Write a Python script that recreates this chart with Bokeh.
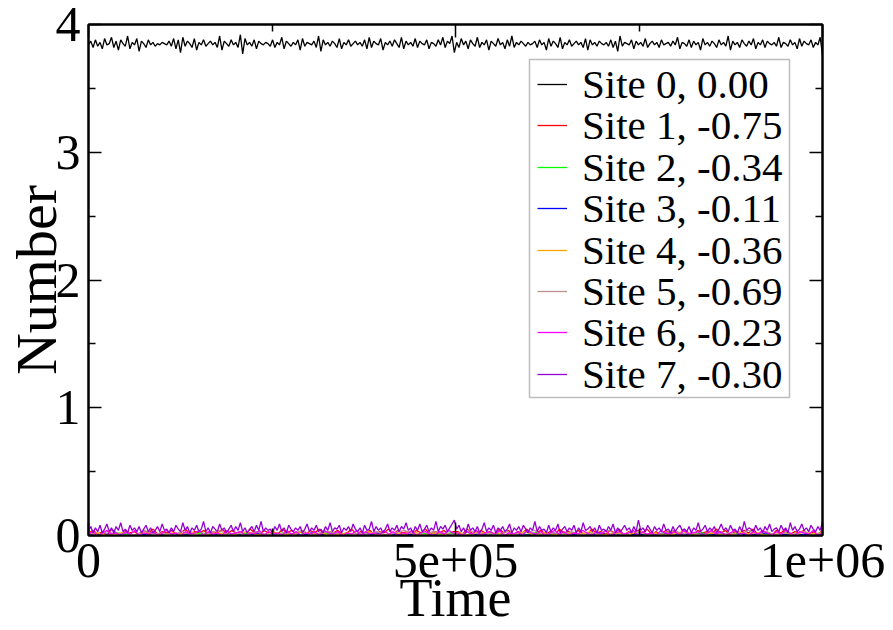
import numpy as np
from bokeh.plotting import figure
from bokeh.models import Range1d, LinearAxis, FixedTicker, Legend, LegendItem, BoxAnnotation
from bokeh.embed import file_html
from bokeh.resources import INLINE

# Axis ticks and labels
x_ticks = [0, 500000, 1000000]
x_minor = [250000, 750000]
x_tick_labels = ["0", "5e+05", "1e+06"]
y_ticks = [0, 1, 2, 3, 4]
y_minor = [0.5, 1.5, 2.5, 3.5]
y_tick_labels = ["0", "1", "2", "3", "4"]

site_labels = ["Site 0, 0.00", "Site 1, -0.75", "Site 2, -0.34", "Site 3, -0.11",
               "Site 4, -0.36", "Site 5, -0.69", "Site 6, -0.23", "Site 7, -0.30"]
site_colors = ["#000000", "#ff0000", "#00ff00", "#0000ff",
               "#ffa500", "#bc8f8f", "#ff00ff", "#9400d3"]

# Occupation number per site over time
site0 = [3.84, 3.87, 3.82, 3.88, 3.83, 3.86, 3.81, 3.89, 3.84, 3.85,
         3.90, 3.82, 3.87, 3.80, 3.88, 3.85, 3.83, 3.91, 3.81, 3.86,
         3.84, 3.89, 3.79, 3.87, 3.85, 3.82, 3.88, 3.84, 3.86, 3.83,
         3.85, 3.84, 3.86, 3.85, 3.84, 3.87, 3.83, 3.89, 3.81, 3.88,
         3.78, 3.90, 3.83, 3.87, 3.85, 3.82, 3.89, 3.80, 3.86, 3.84,
         3.88, 3.83, 3.85, 3.87, 3.84, 3.86, 3.82, 3.91, 3.80, 3.87,
         3.85, 3.83, 3.88, 3.84, 3.86, 3.82, 3.92, 3.77, 3.89, 3.84,
         3.86, 3.83, 3.88, 3.81, 3.87, 3.85, 3.84, 3.86, 3.85, 3.83,
         3.88, 3.82, 3.86, 3.84, 3.90, 3.81, 3.87, 3.85, 3.83, 3.86,
         3.84, 3.88, 3.80, 3.89, 3.83, 3.86, 3.85, 3.84, 3.87, 3.82,
         3.91, 3.79, 3.88, 3.84, 3.86, 3.83, 3.87, 3.85, 3.82, 3.89,
         3.81, 3.86, 3.84, 3.88, 3.83, 3.85, 3.87, 3.84, 3.86, 3.83,
         3.88, 3.81, 3.90, 3.82, 3.87, 3.85, 3.84, 3.89, 3.80, 3.86,
         3.84, 3.87, 3.83, 3.88, 3.85, 3.82, 3.90, 3.81, 3.87, 3.84,
         3.86, 3.83, 3.89, 3.82, 3.87, 3.85, 3.84, 3.88, 3.81, 3.86,
         3.85, 3.83, 3.88, 3.84, 3.90, 3.82, 3.87, 3.85, 3.91, 3.78,
         3.86, 3.82, 3.89, 3.84, 3.87, 3.81, 3.88, 3.85, 3.83, 3.90,
         3.82, 3.86, 3.84, 3.88, 3.80, 3.87, 3.85, 3.83, 3.89, 3.84,
         3.86, 3.81, 3.88, 3.83, 3.91, 3.82, 3.86, 3.84, 3.87, 3.85,
         3.83, 3.86, 3.84, 3.85, 3.87, 3.82, 3.88, 3.84, 3.86, 3.80,
         3.89, 3.83, 3.87, 3.85, 3.82, 3.90, 3.81, 3.86, 3.84, 3.88,
         3.83, 3.85, 3.87, 3.84, 3.86, 3.82, 3.89, 3.80, 3.88, 3.84,
         3.86, 3.83, 3.87, 3.85, 3.84, 3.86, 3.83, 3.88, 3.82, 3.87,
         3.79, 3.91, 3.83, 3.86, 3.85, 3.84, 3.88, 3.81, 3.87, 3.84,
         3.86, 3.83, 3.89, 3.82, 3.85, 3.87, 3.84, 3.86, 3.82, 3.88,
         3.84, 3.85, 3.86, 3.83, 3.87, 3.84, 3.90, 3.81, 3.86, 3.85,
         3.83, 3.88, 3.82, 3.87, 3.84, 3.86, 3.80, 3.89, 3.84, 3.86,
         3.83, 3.87, 3.85, 3.82, 3.88, 3.84, 3.86, 3.83, 3.91, 3.80,
         3.87, 3.84, 3.86, 3.82, 3.88, 3.85, 3.83, 3.87, 3.84, 3.89,
         3.81, 3.86, 3.84, 3.88, 3.82, 3.87, 3.85, 3.84, 3.86, 3.83,
         3.90, 3.82, 3.86, 3.85, 3.83, 3.88, 3.84, 3.86, 3.81, 3.89,
         3.83, 3.87, 3.85, 3.84, 3.88, 3.82, 3.86, 3.84, 3.90, 3.76]

site1 = [0.02, 0.04, 0.01, 0.03, 0.00, 0.05, 0.02, 0.01, 0.04, 0.02,
         0.03, 0.00, 0.04, 0.02, 0.05, 0.01, 0.03, 0.02, 0.04, 0.01,
         0.02, 0.05, 0.01, 0.03, 0.02, 0.04, 0.00, 0.03, 0.02, 0.05,
         0.01, 0.04, 0.02, 0.03, 0.01, 0.05, 0.02, 0.00, 0.04, 0.02,
         0.03, 0.01, 0.05, 0.02, 0.04, 0.01, 0.03, 0.00, 0.04, 0.02,
         0.05, 0.01, 0.03, 0.02, 0.04, 0.01, 0.02, 0.05, 0.01, 0.03,
         0.02, 0.04, 0.00, 0.03, 0.02, 0.05, 0.01, 0.04, 0.02, 0.03,
         0.01, 0.04, 0.02, 0.05, 0.01, 0.03, 0.02, 0.04, 0.01, 0.03,
         0.03, 0.01, 0.05, 0.02, 0.00, 0.04, 0.02, 0.03, 0.01, 0.05,
         0.02, 0.04, 0.00, 0.03, 0.02, 0.05, 0.01, 0.02, 0.04, 0.01,
         0.03, 0.00, 0.05, 0.02, 0.03, 0.01, 0.04, 0.02, 0.00, 0.05,
         0.02, 0.03, 0.01, 0.04, 0.02, 0.05, 0.00, 0.03, 0.01, 0.04,
         0.02, 0.05, 0.01, 0.03, 0.00, 0.04, 0.02, 0.03, 0.01, 0.05,
         0.02, 0.00, 0.04, 0.02, 0.03, 0.01, 0.05, 0.02, 0.04, 0.00,
         0.03, 0.01, 0.04, 0.02, 0.05, 0.01, 0.03, 0.02, 0.00, 0.04,
         0.02, 0.05, 0.01, 0.03, 0.02, 0.04, 0.00, 0.03, 0.01, 0.04]

site2 = [0.00, 0.01, 0.00, 0.02, 0.01, 0.00, 0.01, 0.02, 0.00, 0.01,
         0.01, 0.00, 0.02, 0.01, 0.00, 0.01, 0.00, 0.02, 0.01, 0.00,
         0.01, 0.02, 0.00, 0.01, 0.00, 0.01, 0.02, 0.00, 0.01, 0.00,
         0.02, 0.01, 0.00, 0.01, 0.01, 0.00, 0.02, 0.00, 0.01, 0.02,
         0.00, 0.01, 0.00, 0.02, 0.01, 0.00, 0.01, 0.00, 0.02, 0.01,
         0.00, 0.01, 0.02, 0.00, 0.01, 0.00, 0.01, 0.02, 0.00, 0.01,
         0.01, 0.00, 0.02, 0.01, 0.00, 0.01, 0.02, 0.00, 0.01, 0.00,
         0.02, 0.00, 0.01, 0.01, 0.00, 0.02, 0.01, 0.00, 0.01, 0.02]

site3 = [0.01, 0.00, 0.01, 0.00, 0.02, 0.00, 0.01, 0.00, 0.01, 0.01,
         0.00, 0.02, 0.00, 0.01, 0.00, 0.01, 0.01, 0.00, 0.02, 0.00,
         0.01, 0.00, 0.01, 0.00, 0.02, 0.01, 0.00, 0.01, 0.00, 0.01,
         0.00, 0.02, 0.00, 0.01, 0.00, 0.01, 0.00, 0.01, 0.02, 0.00,
         0.01, 0.00, 0.01, 0.00, 0.02, 0.00, 0.01, 0.00, 0.01, 0.00,
         0.02, 0.00, 0.01, 0.01, 0.00, 0.02, 0.00, 0.01, 0.00, 0.01,
         0.00, 0.01, 0.02, 0.00, 0.01, 0.00, 0.01, 0.00, 0.02, 0.00,
         0.01, 0.00, 0.01, 0.02, 0.00, 0.01, 0.00, 0.01, 0.00, 0.01]

site4 = [0.01, 0.02, 0.00, 0.01, 0.03, 0.00, 0.02, 0.01, 0.00, 0.02,
         0.01, 0.03, 0.00, 0.01, 0.02, 0.00, 0.01, 0.03, 0.01, 0.00,
         0.02, 0.01, 0.00, 0.03, 0.01, 0.02, 0.00, 0.01, 0.02, 0.00,
         0.03, 0.01, 0.00, 0.02, 0.01, 0.03, 0.00, 0.02, 0.01, 0.00,
         0.02, 0.00, 0.03, 0.01, 0.02, 0.00, 0.01, 0.03, 0.00, 0.02,
         0.01, 0.00, 0.02, 0.01, 0.03, 0.00, 0.01, 0.02, 0.00, 0.03,
         0.01, 0.02, 0.00, 0.01, 0.03, 0.01, 0.00, 0.02, 0.01, 0.00,
         0.03, 0.01, 0.02, 0.00, 0.01, 0.02, 0.00, 0.03, 0.01, 0.02]

site5 = [0.02, 0.00, 0.03, 0.01, 0.02, 0.00, 0.04, 0.01, 0.02, 0.00,
         0.03, 0.01, 0.00, 0.02, 0.04, 0.01, 0.02, 0.00, 0.03, 0.01,
         0.00, 0.02, 0.01, 0.04, 0.00, 0.02, 0.03, 0.01, 0.00, 0.02,
         0.01, 0.03, 0.00, 0.02, 0.04, 0.01, 0.00, 0.03, 0.02, 0.01,
         0.00, 0.04, 0.01, 0.02, 0.00, 0.03, 0.01, 0.02, 0.04, 0.00,
         0.02, 0.01, 0.03, 0.00, 0.02, 0.01, 0.04, 0.00, 0.02, 0.03,
         0.01, 0.00, 0.02, 0.04, 0.01, 0.02, 0.00, 0.03, 0.01, 0.02,
         0.00, 0.04, 0.01, 0.03, 0.00, 0.02, 0.01, 0.03, 0.00, 0.02]

site6 = [0.01, 0.03, 0.00, 0.02, 0.04, 0.01, 0.02, 0.00, 0.03, 0.01,
         0.04, 0.00, 0.02, 0.01, 0.03, 0.00, 0.02, 0.04, 0.01, 0.02,
         0.00, 0.03, 0.01, 0.02, 0.04, 0.00, 0.03, 0.01, 0.02, 0.00,
         0.04, 0.01, 0.02, 0.03, 0.00, 0.02, 0.01, 0.04, 0.00, 0.03,
         0.01, 0.02, 0.00, 0.04, 0.01, 0.03, 0.00, 0.02, 0.01, 0.03,
         0.00, 0.04, 0.02, 0.01, 0.03, 0.00, 0.02, 0.01, 0.04, 0.00,
         0.03, 0.01, 0.02, 0.00, 0.04, 0.01, 0.03, 0.00, 0.02, 0.01,
         0.04, 0.00, 0.02, 0.03, 0.01, 0.00, 0.03, 0.01, 0.04, 0.02,
         0.02, 0.00, 0.03, 0.01, 0.04, 0.00, 0.02, 0.03, 0.01, 0.04,
         0.00, 0.02, 0.01, 0.03, 0.00, 0.04, 0.02, 0.01, 0.03, 0.00,
         0.02, 0.04, 0.01, 0.03, 0.00, 0.02, 0.01, 0.04, 0.02, 0.00,
         0.03, 0.01, 0.04, 0.00, 0.02, 0.03, 0.01, 0.02, 0.04, 0.00,
         0.03, 0.01, 0.02, 0.00, 0.04, 0.02, 0.01, 0.03, 0.00, 0.04,
         0.01, 0.02, 0.03, 0.00, 0.02, 0.04, 0.01, 0.03, 0.00, 0.02,
         0.04, 0.01, 0.02, 0.00, 0.03, 0.01, 0.04, 0.02, 0.00, 0.03,
         0.01, 0.04, 0.02, 0.00, 0.03, 0.02, 0.01, 0.04, 0.00, 0.02]

site7 = [0.04, 0.07, 0.02, 0.06, 0.03, 0.08, 0.02, 0.05, 0.09, 0.03,
         0.06, 0.02, 0.07, 0.04, 0.10, 0.03, 0.05, 0.02, 0.08, 0.04,
         0.06, 0.03, 0.07, 0.02, 0.05, 0.08, 0.03, 0.06, 0.02, 0.04,
         0.07, 0.03, 0.09, 0.04, 0.05, 0.02, 0.06, 0.03, 0.08, 0.05,
         0.03, 0.10, 0.04, 0.07, 0.02, 0.06, 0.04, 0.08, 0.03, 0.05,
         0.11, 0.03, 0.06, 0.02, 0.07, 0.05, 0.03, 0.09, 0.04, 0.06,
         0.02, 0.05, 0.08, 0.03, 0.07, 0.04, 0.10, 0.03, 0.06, 0.02,
         0.05, 0.07, 0.03, 0.08, 0.04, 0.11, 0.03, 0.06, 0.04, 0.05,
         0.02, 0.07, 0.04, 0.09, 0.03, 0.06, 0.02, 0.08, 0.05, 0.03,
         0.06, 0.04, 0.07, 0.02, 0.05, 0.09, 0.03, 0.06, 0.04, 0.08,
         0.03, 0.05, 0.02, 0.07, 0.04, 0.10, 0.03, 0.06, 0.05, 0.08,
         0.02, 0.06, 0.04, 0.07, 0.03, 0.09, 0.05, 0.03, 0.06, 0.02,
         0.08, 0.04, 0.05, 0.11, 0.03, 0.07, 0.04, 0.06, 0.02, 0.05,
         0.09, 0.03, 0.06, 0.04, 0.08, 0.03, 0.07, 0.05, 0.10, 0.04,
         0.06, 0.02, 0.07, 0.04, 0.09, 0.03, 0.05, 0.08, 0.03, 0.06,
         0.04, 0.11, 0.03, 0.07, 0.05, 0.08, 0.03, 0.06, 0.09, 0.12,
         0.05, 0.08, 0.03, 0.06, 0.02, 0.09, 0.04, 0.06, 0.03, 0.07,
         0.02, 0.05, 0.10, 0.03, 0.06, 0.04, 0.08, 0.02, 0.06, 0.04,
         0.07, 0.03, 0.05, 0.09, 0.02, 0.06, 0.04, 0.07, 0.03, 0.08,
         0.05, 0.02, 0.06, 0.04, 0.11, 0.03, 0.07, 0.04, 0.05, 0.02,
         0.08, 0.03, 0.06, 0.04, 0.09, 0.02, 0.05, 0.07, 0.03, 0.06,
         0.04, 0.08, 0.02, 0.06, 0.03, 0.10, 0.04, 0.05, 0.07, 0.03,
         0.06, 0.02, 0.08, 0.04, 0.05, 0.03, 0.07, 0.04, 0.09, 0.02,
         0.06, 0.03, 0.05, 0.08, 0.04, 0.06, 0.02, 0.07, 0.03, 0.12,
         0.04, 0.06, 0.03, 0.08, 0.05, 0.02, 0.07, 0.04, 0.06, 0.03,
         0.09, 0.04, 0.05, 0.02, 0.07, 0.03, 0.06, 0.08, 0.04, 0.05,
         0.03, 0.07, 0.02, 0.06, 0.04, 0.10, 0.03, 0.05, 0.08, 0.03,
         0.06, 0.04, 0.07, 0.02, 0.05, 0.09, 0.04, 0.06, 0.03, 0.08,
         0.04, 0.05, 0.02, 0.07, 0.03, 0.11, 0.04, 0.06, 0.05, 0.03,
         0.08, 0.04, 0.06, 0.02, 0.07, 0.04, 0.09, 0.03, 0.05, 0.06,
         0.03, 0.08, 0.04, 0.06, 0.02, 0.10, 0.04, 0.07, 0.03, 0.05,
         0.09, 0.04, 0.06, 0.03, 0.08, 0.05, 0.03, 0.07, 0.04, 0.11]

sites = [site0, site1, site2, site3, site4, site5, site6, site7]

T_END = 1000000
FONT = "Liberation Serif"

# Frame placement in pixels
FRAME_LEFT, FRAME_RIGHT, FRAME_TOP, FRAME_BOTTOM = 88, 822, 24, 538
W, H = 893, 630

p = figure(width=W, height=H, output_backend="svg", toolbar_location=None,
           x_range=Range1d(0, T_END), y_range=Range1d(0, 4),
           min_border_left=FRAME_LEFT, min_border_right=W - FRAME_RIGHT,
           min_border_top=FRAME_TOP, min_border_bottom=H - FRAME_BOTTOM)
p.background_fill_color = "white"
p.border_fill_color = "white"
p.xgrid.visible = False
p.ygrid.visible = False
p.outline_line_color = "black"
p.outline_line_width = 2

xt = FixedTicker(ticks=x_ticks, minor_ticks=x_minor)
yt = FixedTicker(ticks=y_ticks, minor_ticks=y_minor)


def style_axis(ax, ticker, labels, show_labels):
    ax.ticker = ticker
    ax.axis_line_color = "black"
    ax.axis_line_width = 2
    ax.major_tick_line_color = "black"
    ax.major_tick_line_width = 1.5
    ax.minor_tick_line_color = "black"
    ax.minor_tick_line_width = 1.5
    ax.major_tick_in = 13
    ax.major_tick_out = 0
    ax.minor_tick_in = 7
    ax.minor_tick_out = 0
    ax.major_label_text_font = FONT
    ax.axis_label_text_font = FONT
    ax.axis_label_text_font_style = "normal"
    ax.axis_label_text_color = "black"
    ax.major_label_text_color = "black"
    if show_labels:
        ax.major_label_overrides = {t: s for t, s in zip(ticker.ticks, labels)}
        ax.major_label_text_font_size = "50px"
    else:
        # mirrored frame axis: ticks only
        ax.major_label_overrides = {t: "" for t in ticker.ticks}
        ax.major_label_standoff = 0
        ax.axis_label = None


style_axis(p.xaxis[0], xt, x_tick_labels, True)
style_axis(p.yaxis[0], yt, y_tick_labels, True)
p.xaxis[0].axis_label = "Time"
p.xaxis[0].axis_label_text_font_size = "54px"
p.yaxis[0].axis_label = "Number"
p.yaxis[0].axis_label_text_font_size = "58px"
p.xaxis[0].major_label_standoff = 8
p.xaxis[0].axis_label_standoff = -12
p.yaxis[0].major_label_standoff = 8
p.yaxis[0].axis_label_standoff = -16

top_axis = LinearAxis()
right_axis = LinearAxis()
style_axis(top_axis, xt, x_tick_labels, False)
style_axis(right_axis, yt, y_tick_labels, False)
p.add_layout(top_axis, "above")
p.add_layout(right_axis, "right")

renderers = []
for color, values in zip(site_colors, sites):
    t = np.linspace(0, T_END, len(values))
    renderers.append(p.line(t, values, line_color=color, line_width=1.3))

# Legend frame (screen units relative to the plot frame, origin bottom-left)
BOX_L, BOX_R, BOX_T, BOX_B = 529, 789, 62, 400
p.add_layout(BoxAnnotation(left=BOX_L - FRAME_LEFT, right=BOX_R - FRAME_LEFT,
                           top=FRAME_BOTTOM - BOX_T, bottom=FRAME_BOTTOM - BOX_B,
                           left_units="screen", right_units="screen",
                           top_units="screen", bottom_units="screen",
                           fill_color="white", fill_alpha=1.0,
                           line_color="#222222", line_width=1.5, level="annotation"))

# One legend row per site, stacked at a fixed pitch
ROW0, ROW_STEP, ROW_H, GLYPH_X = 87, 41.4, 48, 537
for i, (label, r) in enumerate(zip(site_labels, renderers)):
    yc = ROW0 + ROW_STEP * i
    lg = Legend(items=[LegendItem(label=label, renderers=[r])],
                location=(GLYPH_X - FRAME_LEFT, FRAME_BOTTOM - (yc + ROW_H / 2)))
    lg.label_text_font = FONT
    lg.label_text_font_size = "41px"
    lg.label_text_color = "black"
    lg.label_height = ROW_H
    lg.glyph_height = ROW_H
    lg.glyph_width = 30
    lg.label_standoff = 15
    lg.padding = 0
    lg.margin = 0
    lg.border_line_color = None
    lg.background_fill_alpha = 0
    p.add_layout(lg)

open("out.html", "w").write(file_html(p, INLINE))
